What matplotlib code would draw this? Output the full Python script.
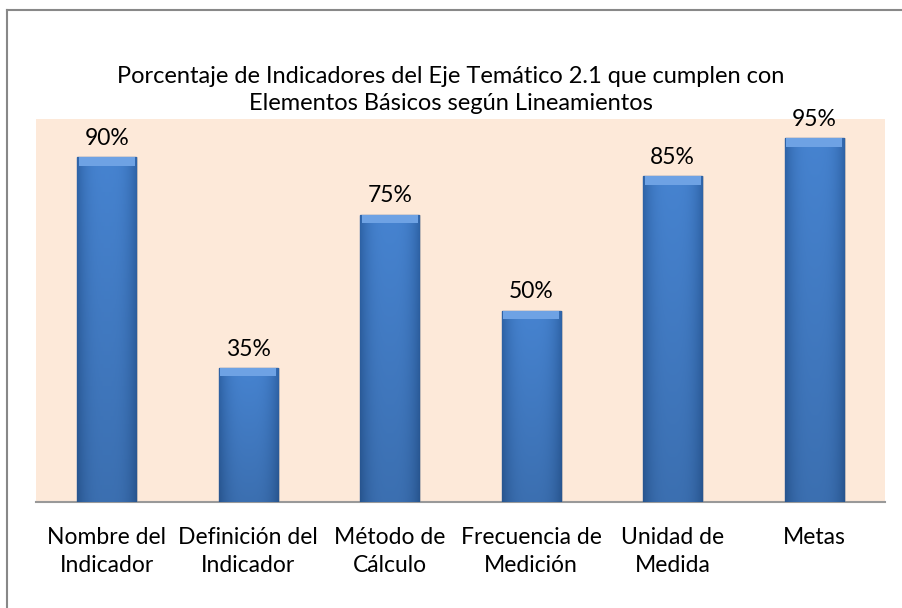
import numpy as np
import matplotlib.pyplot as plt
from matplotlib.colors import to_rgb

categorias = ["Nombre del\nIndicador", "Definición del\nIndicador", "Método de\nCálculo",
              "Frecuencia de\nMedición", "Unidad de\nMedida", "Metas"]
porcentajes = [0.90, 0.35, 0.75, 0.50, 0.85, 0.95]
etiquetas = ["90%", "35%", "75%", "50%", "85%", "95%"]

plt.rcParams['font.family'] = ['Lato', 'DejaVu Sans']

fig = plt.figure(figsize=(9.02, 6.08), dpi=100)
ax = fig.add_axes([36 / 902, 1 - 502 / 608, 849 / 902, 383 / 608])

x = np.arange(len(categorias))
ancho = 0.42

ax.set_facecolor('#FDE9D9')
# sombra ligera
ax.bar(x + 0.012, porcentajes, width=ancho, color='#c9b7a8', alpha=0.5, zorder=2)
barras = ax.bar(x, porcentajes, width=ancho, color='#3F7DCB', edgecolor='#2E5F9F',
                linewidth=1.0, zorder=3)

# degradado dentro de cada barra
centro = np.array(to_rgb('#4683D0'))
borde = np.array(to_rgb('#2F64A8'))
h = np.linspace(-1, 1, 60)
peso = np.abs(h) ** 3
fila = centro[None, :] * (1 - peso[:, None]) + borde[None, :] * peso[:, None]
vert = np.linspace(0.85, 1.0, 80)[:, None, None]
grad = fila[None, :, :] * vert
for b in barras:
    im = ax.imshow(grad, extent=(b.get_x(), b.get_x() + b.get_width(), 0, b.get_height()),
                   origin='lower', aspect='auto', zorder=3.5)
    im.set_clip_path(b)

# bisel superior
ax.bar(x, [0.022] * len(x), bottom=np.array(porcentajes) - 0.022, width=ancho * 0.94,
       color='#6EA2E4', linewidth=0, zorder=4)

for xi, v, t in zip(x, porcentajes, etiquetas):
    ax.annotate(t, (xi, v), xytext=(0, 6), textcoords='offset points',
                ha='center', va='bottom', fontsize=16.5)

ax.set_xlim(-0.5, len(categorias) - 0.5)
ax.set_ylim(0, 1.0)
ax.set_yticks([])
ax.set_xticks(x)
ax.set_xticklabels(categorias, fontsize=16.5, linespacing=1.4)
ax.tick_params(axis='x', length=0, pad=18)
for s in ['top', 'right', 'left']:
    ax.spines[s].set_visible(False)
ax.spines['bottom'].set_color('#999999')
ax.spines['bottom'].set_linewidth(1.5)

fig.text(0.5, 1 - 90 / 608, "Porcentaje de Indicadores del Eje Temático 2.1 que cumplen con\n"
         "Elementos Básicos según Lineamientos", ha='center', va='center',
         fontsize=17, linespacing=1.4)

# borde del gráfico
fig.add_artist(plt.Line2D([7 / 902, 7 / 902], [0, 1 - 10 / 608], transform=fig.transFigure,
                          color='#888888', linewidth=1.5))
fig.add_artist(plt.Line2D([7 / 902, 1], [1 - 10 / 608, 1 - 10 / 608], transform=fig.transFigure,
                          color='#888888', linewidth=1.5))

fig.savefig("out.png", dpi=100)
plt.close()
